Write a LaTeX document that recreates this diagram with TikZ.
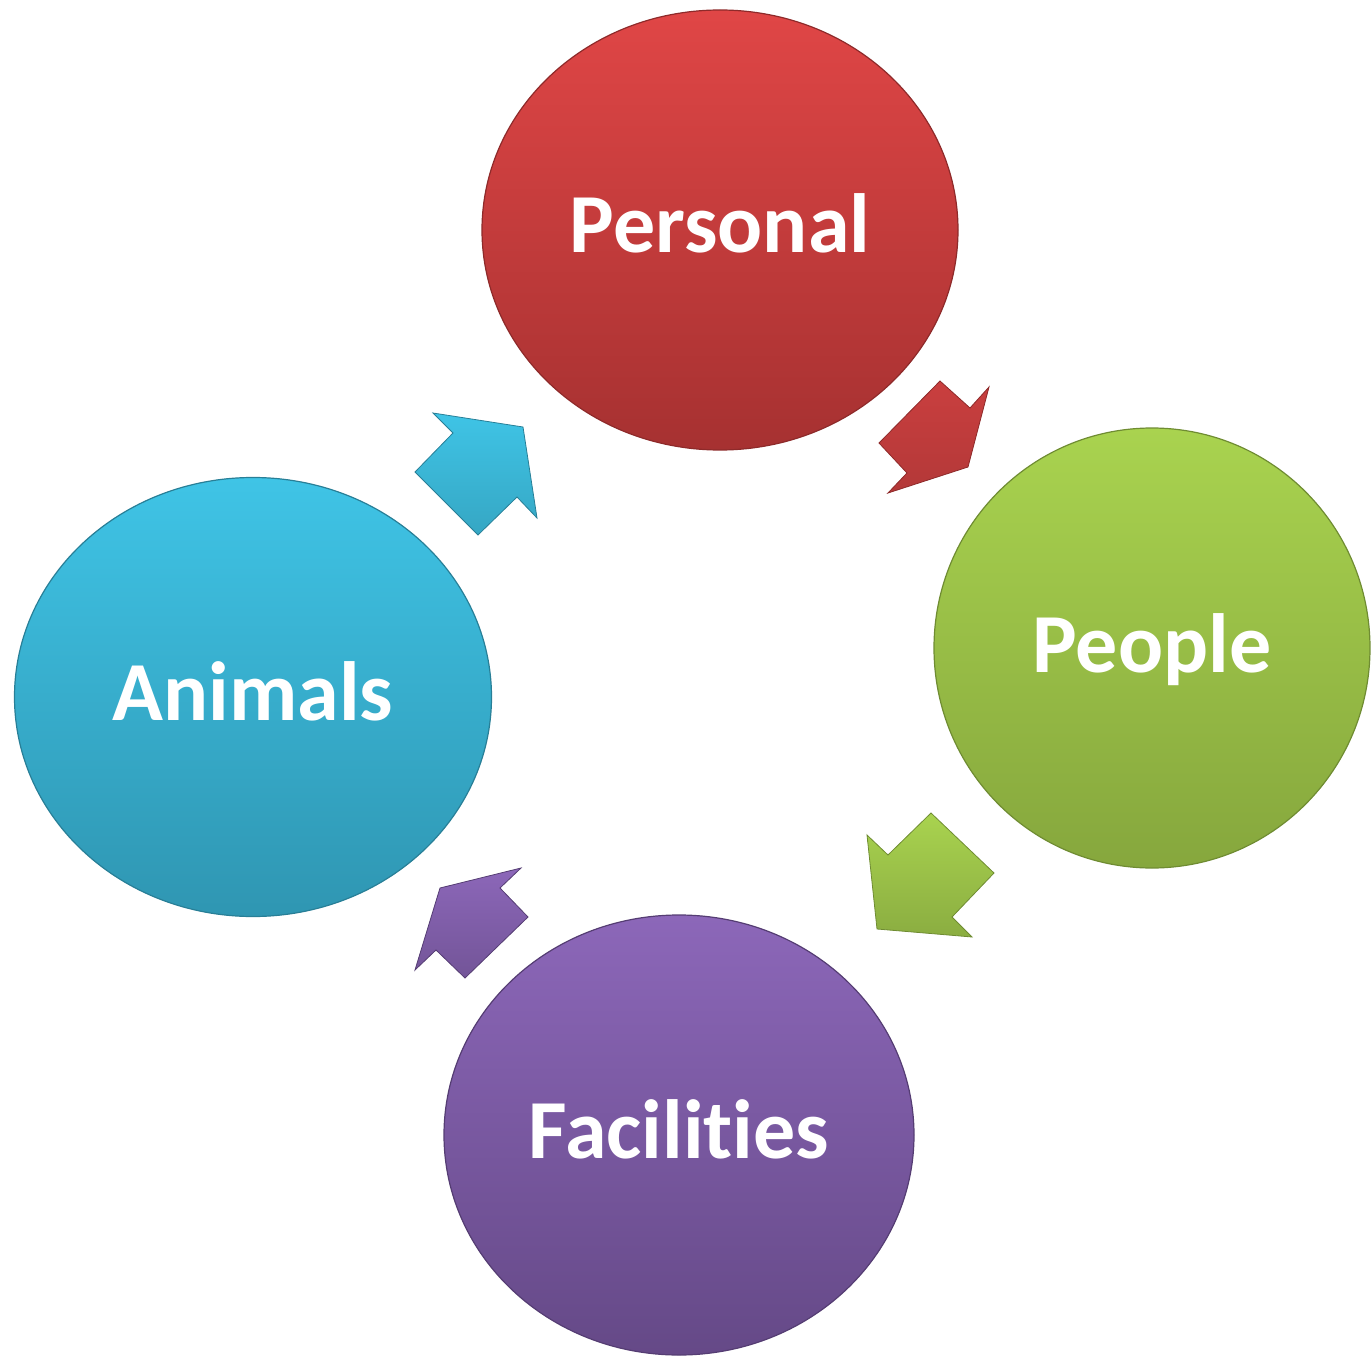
\documentclass[tikz,border=0pt]{standalone}
\usepackage{fontspec}
\setmainfont{Carlito}[RawFeature={-liga;-clig;-dlig}]
\usetikzlibrary{shapes.geometric}
\definecolor{redT}{HTML}{E04646}
\definecolor{redB}{HTML}{A63131}
\definecolor{redE}{HTML}{8E2A2A}
\definecolor{grnT}{HTML}{A9D34F}
\definecolor{grnB}{HTML}{86A73D}
\definecolor{grnE}{HTML}{6F8C32}
\definecolor{purT}{HTML}{8C67B9}
\definecolor{purB}{HTML}{654987}
\definecolor{purE}{HTML}{553D73}
\definecolor{cynT}{HTML}{3FC4E6}
\definecolor{cynB}{HTML}{2F96B2}
\definecolor{cynE}{HTML}{287F97}
\tikzset{
  bub/.style={ellipse, inner sep=0pt, line width=1.2pt},
  lbl/.style={anchor=base, text=white, font=\fontsize{84}{92}\selectfont\bfseries, inner sep=0pt},
  blk/.style={line width=0.8pt, line join=miter}
}
\begin{document}
\begin{tikzpicture}[x=1pt,y=-1pt]
\useasboundingbox (0,0) rectangle (1371,1356);
% bubbles
\node[bub, minimum width=476pt, minimum height=440pt, top color=redT, bottom color=redB, draw=redE] (personal) at (720,230) {};
\node[bub, minimum width=436pt, minimum height=440pt, top color=grnT, bottom color=grnB, draw=grnE] (people) at (1152,648) {};
\node[bub, minimum width=470pt, minimum height=440pt, top color=purT, bottom color=purB, draw=purE] (facilities) at (679,1135) {};
\node[bub, minimum width=477pt, minimum height=439pt, top color=cynT, bottom color=cynB, draw=cynE] (animals) at (253,697) {};
\node[lbl] (tpersonal) at ([yshift=-23pt]personal.center) {Personal};
\node[lbl] (tpeople) at ([yshift=-24pt]people.center) {People};
\node[lbl] (tfacilities) at ([yshift=-23pt]facilities.center) {Facilities};
\node[lbl] (tanimals) at ([yshift=-23pt]animals.center) {Animals};
% block arrows
\path[blk, top color=redT!90!black, bottom color=redT!80!black, draw=redE]
  (940,381) -- (970,408) -- (989,387) -- (968,467) -- (888,493) -- (907,473) -- (879,443) -- cycle;
\path[blk, top color=grnT, bottom color=grnT!82!black, draw=grnE]
  (931,813) -- (994,873) -- (952,917) -- (972,937) -- (877,929) -- (867,835) -- (888,855) -- cycle;
\path[blk, top color=purT, bottom color=purT!82!black, draw=purE]
  (521,868) -- (500,888) -- (528,917) -- (465,978) -- (436,950) -- (415,970) -- (440,888) -- cycle;
\path[blk, top color=cynT, bottom color=cynT!85!black, draw=cynE]
  (433,413) -- (453,433) -- (415,472) -- (478,535) -- (517,497) -- (537,518) -- (523,427) -- cycle;
\end{tikzpicture}
\end{document}
